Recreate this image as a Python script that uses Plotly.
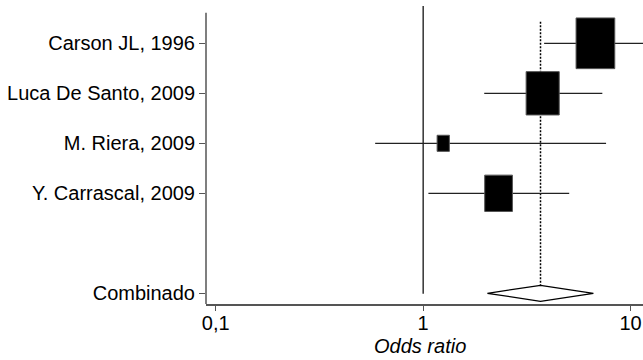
import math
import plotly.graph_objects as go

# ---- data ----
studies = ["Carson JL, 1996", "Luca De Santo, 2009", "M. Riera, 2009", "Y. Carrascal, 2009"]
study_pos = [0, 1, 2, 3]
odds_ratio = [6.77, 3.77, 1.25, 2.31]
ci_low = [3.83, 1.97, 0.587, 1.06]
ci_high = [14.0, 7.31, 7.62, 5.06]
weights = [42.7, 31.2, 4.3, 21.9]

pooled_label = "Combinado"
pooled_pos = 5
pooled_or = 3.68
pooled_low = 2.04
pooled_high = 6.62

x_tickvals = [0.1, 1, 10]
x_ticktext = ["0,1", "1", "10"]
x_title = "Odds ratio"

# ---- figure ----
FONT = "Liberation Sans, Arial, Helvetica, sans-serif"
y_top, y_bot = -0.746, 5.214
kx, ky = 0.01428, 0.0776

fig = go.Figure()

# null line at OR = 1
fig.add_trace(go.Scatter(x=[1, 1], y=[y_top, pooled_pos + 0.01], mode="lines",
                         line=dict(color="black", width=1.2), hoverinfo="skip", showlegend=False))
# dotted line at pooled estimate
fig.add_trace(go.Scatter(x=[pooled_or, pooled_or], y=[-0.43, pooled_pos - 0.16], mode="lines",
                         line=dict(color="black", width=1.5, dash="2px,1.5px"),
                         hoverinfo="skip", showlegend=False))
# confidence intervals
for i in range(len(studies)):
    fig.add_trace(go.Scatter(x=[ci_low[i], ci_high[i]], y=[study_pos[i], study_pos[i]], mode="lines",
                             line=dict(color="#222", width=1.2), hoverinfo="skip", showlegend=False))
# weight boxes
for i in range(len(studies)):
    s = math.sqrt(weights[i])
    hx = kx * s
    hy = ky * s
    x0 = odds_ratio[i] * 10 ** (-hx)
    x1 = odds_ratio[i] * 10 ** (hx)
    y0 = study_pos[i] - hy
    y1 = study_pos[i] + hy
    fig.add_trace(go.Scatter(x=[x0, x1, x1, x0, x0], y=[y0, y0, y1, y1, y0], mode="lines",
                             fill="toself", fillcolor="black", line=dict(color="#555", width=1),
                             hoverinfo="skip", showlegend=False))
# pooled diamond
dh = 0.16
fig.add_trace(go.Scatter(x=[pooled_low, pooled_or, pooled_high, pooled_or, pooled_low],
                         y=[pooled_pos, pooled_pos - dh, pooled_pos, pooled_pos + dh, pooled_pos],
                         mode="lines", fill="toself", fillcolor="white",
                         line=dict(color="black", width=1.2), hoverinfo="skip", showlegend=False))

plot_top, plot_bot = 6, 304
y_axis_top_px = 12.7
fig.add_shape(type="line", xref="paper", yref="paper", x0=0, x1=0,
              y0=0, y1=(plot_bot - y_axis_top_px) / (plot_bot - plot_top),
              line=dict(color="#555", width=1.5))

fig.add_annotation(text=f"<i>{x_title}</i>", xref="paper", yref="paper",
                   x=(420 - 206) / (643 - 206), y=-(346 - plot_bot) / (plot_bot - plot_top),
                   xanchor="center", yanchor="middle", showarrow=False,
                   font=dict(family=FONT, size=20, color="black"))

fig.update_layout(
    width=643, height=360, autosize=False,
    margin=dict(l=206, r=0, t=plot_top, b=360 - plot_bot, pad=0),
    paper_bgcolor="white", plot_bgcolor="white",
    separators=",.",
    font=dict(family=FONT, size=20, color="black"),
    showlegend=False,
    xaxis=dict(type="log", range=[-1.047, 1.060], tickvals=x_tickvals, ticktext=x_ticktext,
               showline=True, linecolor="#555", linewidth=1.5, ticks="outside", ticklen=5,
               tickcolor="#555", tickwidth=1.2, showgrid=False, zeroline=False,
               ticklabelstandoff=-5,
               tickfont=dict(family=FONT, size=20, color="black")),
    yaxis=dict(range=[y_bot, y_top], tickvals=study_pos + [pooled_pos],
               ticktext=studies + [pooled_label], showline=False, ticks="outside", ticklen=6,
               tickcolor="#555", tickwidth=1.2, showgrid=False, zeroline=False,
               tickfont=dict(family=FONT, size=20, color="black")),
)

fig.write_html("out.html", config={"displayModeBar": False},
               post_script="document.body.style.margin='0px';document.body.style.overflow='hidden';")
